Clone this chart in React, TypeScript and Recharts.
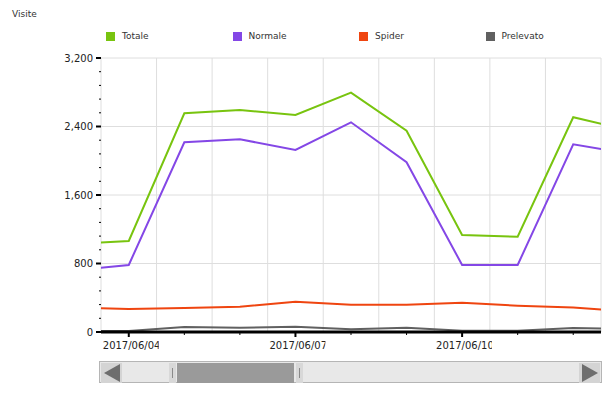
import { LineChart, Line, XAxis, YAxis, CartesianGrid } from "recharts"

const dates = [
  "2017/06/03", "2017/06/04", "2017/06/05", "2017/06/06", "2017/06/07", "2017/06/08",
  "2017/06/09", "2017/06/10", "2017/06/11", "2017/06/12", "2017/06/13",
]
const totale = [1030, 1063, 2554, 2593, 2535, 2795, 2351, 1133, 1113, 2508, 2357]
const normale = [720, 783, 2216, 2251, 2126, 2449, 1982, 783, 783, 2192, 2081]
const spider = [285, 269, 280, 296, 354, 319, 319, 342, 307, 286, 237]
const prelevato = [10, 12, 58, 50, 62, 31, 50, 15, 15, 47, 35]

const labelledDates = ["2017/06/04", "2017/06/07", "2017/06/10"]
const yTicks = [0, 160, 320, 480, 640, 800, 960, 1120, 1280, 1440, 1600, 1760, 1920, 2080, 2240, 2400, 2560, 2720, 2880, 3040, 3200]
const yGrid = [800, 1600, 2400, 3200]

const series = [
  { key: "totale", name: "Totale", color: "#78c40f" },
  { key: "normale", name: "Normale", color: "#8447e6" },
  { key: "spider", name: "Spider", color: "#ef4510" },
  { key: "prelevato", name: "Prelevato", color: "#606060" },
]

const data = dates.map((d, i) => ({
  x: i,
  date: d,
  totale: totale[i],
  normale: normale[i],
  spider: spider[i],
  prelevato: prelevato[i],
}))

// visible window: one band either side of each shown day
const xTicks = dates.map((_, i) => i).slice(1, dates.length - 1)
const xGrid = [...xTicks.map((i) => i - 0.5), xTicks[xTicks.length - 1] + 0.5]

const font = "'DejaVu Sans', Verdana, sans-serif"

function XTick({ x, y, payload }: any) {
  const label = dates[payload.value]
  const major = labelledDates.includes(label)
  return (
    <g>
      <line x1={x} x2={x} y1={y} y2={y + (major ? 5 : 3)} stroke="#000" strokeWidth={major ? 2 : 1} />
      {major && (
        <>
          <clipPath id={"clip-" + payload.value}>
            <rect x={x - 27} y={y + 4} width={57} height={16} />
          </clipPath>
          <text x={x - 26} y={y + 17} fontSize={10} fill="#222" fontFamily={font} clipPath={`url(#clip-${payload.value})`}>
            {label}
          </text>
        </>
      )}
    </g>
  )
}

function YTick({ x, y, payload }: any) {
  const major = payload.value % 800 === 0
  return (
    <g>
      <line x1={x - (major ? 5 : 2)} x2={x} y1={y} y2={y} stroke="#000" strokeWidth={major ? 2 : 1} />
      {major && (
        <text x={x - 8} y={y + 3.5} fontSize={10} textAnchor="end" fill="#222" fontFamily={font}>
          {payload.value.toLocaleString("en-US")}
        </text>
      )}
    </g>
  )
}

function Scrollbar() {
  const arrow = (dir: "left" | "right") => (
    <div style={{ position: "absolute", top: 1, [dir]: 1, width: 21, height: 20, background: "#d4d4d4", display: "flex", alignItems: "center", justifyContent: "center" }}>
      <div
        style={{
          width: 0,
          height: 0,
          borderTop: "9px solid transparent",
          borderBottom: "9px solid transparent",
          [dir === "left" ? "borderRight" : "borderLeft"]: "16px solid #6e6e6e",
        }}
      />
    </div>
  )
  const grip = (left: number) => (
    <div style={{ position: "absolute", top: 1, left, width: 7, height: 20, background: "#d8d8d8" }}>
      <div style={{ position: "absolute", left: 3, top: 5, width: 1, height: 10, background: "#8a8a8a" }} />
    </div>
  )
  return (
    <div style={{ position: "absolute", left: 99, top: 361, width: 503, height: 22, background: "#e8e8e8", border: "1px solid #b5b5b5", boxSizing: "border-box" }}>
      {arrow("left")}
      {arrow("right")}
      {grip(69)}
      <div style={{ position: "absolute", top: 1, left: 77, width: 117, height: 20, background: "#9a9a9a" }} />
      {grip(196)}
    </div>
  )
}

export default function App() {
  return (
    <div style={{ position: "absolute", left: 0, top: 0, width: 615, height: 396, background: "#fff", fontFamily: font }}>
      <div style={{ position: "absolute", left: 12, top: 9, fontSize: 9, color: "#333" }}>Visite</div>
      {series.map((s, i) => (
        <div key={s.key} style={{ position: "absolute", left: 106 + i * 126.5, top: 31, display: "flex", alignItems: "center", fontSize: 9, color: "#333" }}>
          <span style={{ width: 9, height: 9, background: s.color, display: "inline-block", marginRight: 7 }} />
          {s.name}
        </div>
      ))}
      <LineChart width={615} height={360} data={data} margin={{ top: 58, right: 14, left: 51, bottom: 8 }}>
        <CartesianGrid stroke="#dedede" verticalValues={xGrid} horizontalValues={yGrid} />
        <XAxis
          dataKey="x"
          type="number"
          domain={[xGrid[0], xGrid[xGrid.length - 1]]}
          allowDataOverflow
          ticks={xTicks}
          interval={0}
          height={20}
          tickSize={0}
          tickMargin={0}
          tick={<XTick />}
          axisLine={{ stroke: "#000", strokeWidth: 3 }}
        />
        <YAxis
          type="number"
          domain={[0, 3200]}
          ticks={yTicks}
          interval={0}
          width={50}
          tickSize={0}
          tickMargin={0}
          tick={<YTick />}
          axisLine={false}
        />
        {series.map((s) => (
          <Line key={s.key} dataKey={s.key} name={s.name} type="linear" stroke={s.color} strokeWidth={2} dot={false} isAnimationActive={false} />
        ))}
      </LineChart>
      <Scrollbar />
    </div>
  )
}
